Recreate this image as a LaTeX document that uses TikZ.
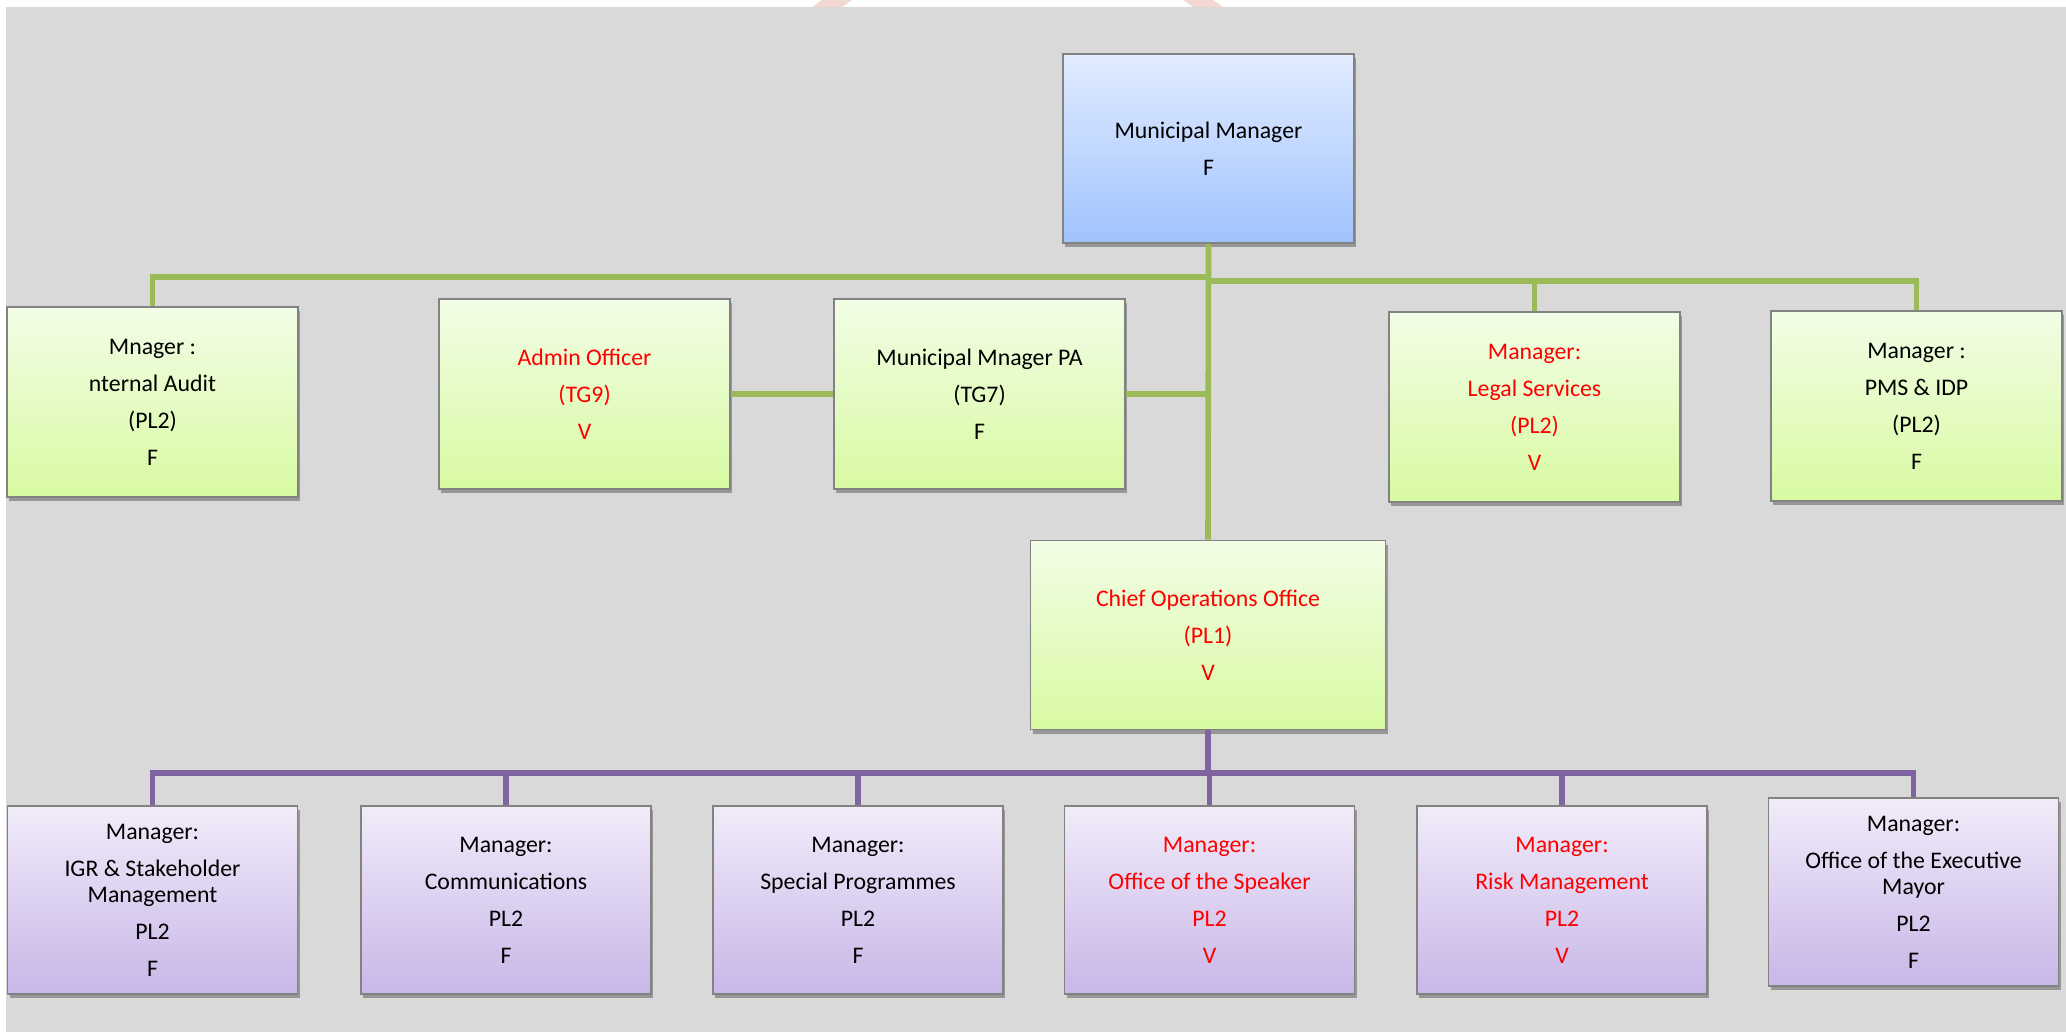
\documentclass[tikz,border=0pt]{standalone}
\usepackage{fontspec}
\setmainfont{Carlito}
\usetikzlibrary{shadows}
\definecolor{bgc}{RGB}{217,217,217}
\definecolor{gline}{RGB}{155,187,89}
\definecolor{pline}{RGB}{128,100,162}
\definecolor{gtop}{RGB}{242,253,230}
\definecolor{gbot}{RGB}{216,250,162}
\definecolor{btop}{RGB}{226,236,255}
\definecolor{bbot}{RGB}{160,195,254}
\definecolor{ptop}{RGB}{241,235,249}
\definecolor{pbot}{RGB}{200,183,232}
\definecolor{bord}{RGB}{130,130,130}
\definecolor{wm}{RGB}{242,215,210}
\newcommand{\psk}{\\[5.5pt]}
\begin{document}
\begin{tikzpicture}[x=0.5pt,y=-0.5pt,
  box/.style={draw=bord, line width=0.9pt, align=center, inner sep=0pt,
    font=\fontsize{11.9}{13}\selectfont,
    drop shadow={shadow xshift=1pt, shadow yshift=-2pt, opacity=0.3, fill=black}},
  gbox/.style={box, top color=gtop, bottom color=gbot, minimum width=145.5pt, minimum height=95pt},
  bbox/.style={box, top color=btop, bottom color=bbot, minimum width=145.5pt, minimum height=94.5pt},
  pbox/.style={box, top color=ptop, bottom color=pbot, minimum width=145pt, minimum height=94pt},
  vac/.style={text=red},
  gcon/.style={draw=gline, line width=2.8pt},
  pcon/.style={draw=pline, line width=2.8pt}]
\useasboundingbox (0,0) rectangle (2066,1032);
\fill[white] (0,0) rectangle (2066,1032);
\fill[wm] (822,0) -- (852,0) -- (842,7) -- (812,7) -- cycle;
\fill[wm] (1183,0) -- (1213,0) -- (1223,7) -- (1193,7) -- cycle;
\fill[bgc] (6,7) rectangle (2066,1032);

% top level
\node[bbox] (mm) at (1208.5,148.5) {Municipal Manager\psk F};
% second row
\node[gbox] (ia) at (152.5,402) {Mnager :\psk nternal Audit\psk (PL2)\psk F};
\node[gbox,vac] (admin) at (584.5,394) {Admin Officer\psk (TG9)\psk V};
\node[gbox] (pa) at (979.5,394) {Municipal Mnager PA\psk (TG7)\psk F};
\node[gbox,vac] (legal) at (1534.5,407) {Manager:\psk Legal Services\psk (PL2)\psk V};
\node[gbox] (pms) at (1916.5,406) {Manager :\psk PMS \& IDP\psk (PL2)\psk F};
\node[gbox, minimum width=177.5pt, minimum height=94.5pt, vac] (coo) at (1208,635) {Chief Operations Office\psk (PL1)\psk V};
% bottom row
\node[pbox] (b1) at (152.5,900) {Manager:\psk IGR \& Stakeholder\\Management\psk PL2\psk F};
\node[pbox] (b2) at (506,900) {Manager:\psk Communications\psk PL2\psk F};
\node[pbox] (b3) at (858,900) {Manager:\psk Special Programmes\psk PL2\psk F};
\node[pbox,vac] (b4) at (1209.5,900) {Manager:\psk Office of the Speaker\psk PL2\psk V};
\node[pbox,vac] (b5) at (1562,900) {Manager:\psk Risk Management\psk PL2\psk V};
\node[pbox] (b6) at (1913.5,892) {Manager:\psk Office of the Executive\\Mayor\psk PL2\psk F};

% green connectors
\draw[gcon] (mm.south) -- (coo.north);
\draw[gcon] (mm.south |- 0,277) -| (ia.north);
\draw[gcon] (mm.south |- 0,281) -| (pms.north);
\draw[gcon] (legal.north) -- (legal.north |- 0,281);
\draw[gcon] (admin.east) -- (pa.west);
\draw[gcon] (pa.east) -- (pa.east -| mm.south);

% purple connectors
\draw[pcon] (coo.south) -- (coo.south |- 0,773) -| (b4.north);
\draw[pcon] (coo.south |- 0,773) -| (b1.north);
\draw[pcon] (coo.south |- 0,773) -| (b6.north);
\draw[pcon] (b2.north) -- (b2.north |- 0,773);
\draw[pcon] (b3.north) -- (b3.north |- 0,773);
\draw[pcon] (b5.north) -- (b5.north |- 0,773);
\end{tikzpicture}
\end{document}
